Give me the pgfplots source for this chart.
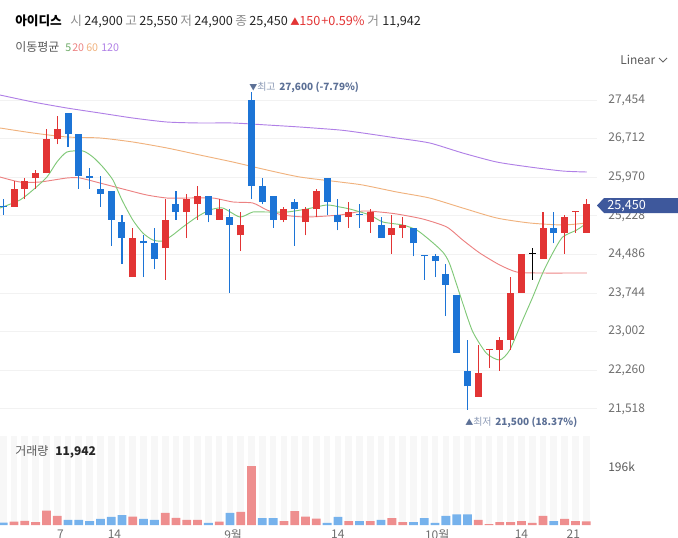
\documentclass[border=0pt]{standalone}
\usepackage{fontspec}
\setmainfont{Noto Sans CJK KR}
\usepackage{pgfplots}
\usepackage{pgfplotstable}
\pgfplotsset{compat=1.18}
\definecolor{upc}{RGB}{226,52,52}
\definecolor{dnc}{RGB}{28,116,214}
\definecolor{vup}{RGB}{238,142,142}
\definecolor{vdn}{RGB}{118,178,236}
\definecolor{ma5}{RGB}{128,200,120}
\definecolor{ma20}{RGB}{236,130,130}
\definecolor{ma60}{RGB}{240,178,126}
\definecolor{ma120}{RGB}{176,128,230}
\definecolor{tagc}{RGB}{62,88,156}
\definecolor{annc}{RGB}{92,112,150}
\definecolor{txtg}{RGB}{110,110,110}
\definecolor{lblg}{RGB}{140,140,140}

% candles: index open high low close
\pgfplotstableread{
i O H L C
1 25400 25900 25400 25750
2 25750 25950 25550 25900
3 25950 26100 25750 26050
4 26050 26900 26050 26700
5 26700 27150 26600 26900
12 24050 25000 24050 24800
15 24600 25550 24000 25150
17 25300 25650 24800 25550
18 25450 25800 25150 25600
20 25150 25550 25150 25350
22 24850 25300 24550 25050
26 25150 25400 25100 25350
28 25100 25400 24850 25350
29 25350 25750 25200 25700
32 25200 25500 25000 25300
34 25100 25350 24900 25300
36 24850 25250 24500 25000
37 25000 25200 24800 25050
44 21750 22750 21750 22200
45 22650 22650 22300 22650
46 22650 22900 22250 22850
47 22850 24050 22650 23750
48 23750 24500 23750 24500
50 24400 25300 24400 25000
52 24900 25250 24500 25200
53 25300 25300 24900 25300
54 24900 25550 24900 25450
}\upt
\pgfplotstableread{
i O H L C
0 25400 25550 25250 25400
6 27200 27200 26550 26800
7 26800 26800 25750 26000
8 26000 26150 25750 25950
9 25750 26000 25400 25650
10 25700 25700 24650 25150
11 25100 25250 24300 24800
13 24750 24850 24050 24700
14 24700 25000 24200 24400
16 25450 25700 25150 25300
19 25600 25600 25100 25250
21 25200 25350 23750 25050
23 27450 27600 25550 25800
24 25800 25950 25450 25500
25 25600 25600 25000 25150
27 25500 25550 24650 25350
30 25950 25950 25250 25500
31 25250 25550 24950 25100
33 25250 25450 25000 25250
35 25050 25200 24800 24800
38 25000 25000 24450 24700
39 24450 24450 24000 24450
40 24450 24500 24050 24350
41 24100 24300 23300 23900
42 23700 23700 22600 22600
43 22250 22850 21500 21950
51 25000 25300 24700 24900
}\dnt
\pgfplotstableread{
i O H L C
49 24500 24600 24000 24500
}\flt
% volume (thousands)
\pgfplotstableread{
i v
1 11
2 14
3 10
4 48
5 30
12 28
15 40
16 24
17 17
18 17
20 11
22 44
23 196
26 13
27 46
28 28
29 21
32 13
34 13
36 23
37 10
44 17
45 3
46 10
47 10
48 13
49 7
50 30
52 20
53 13
54 12
}\vupt
\pgfplotstableread{
i v
0 8
6 17
7 17
8 13
9 20
10 27
11 33
13 20
14 17
19 7
21 40
24 23
25 23
30 7
31 27
33 13
35 17
38 10
39 23
40 7
41 30
42 35
43 35
51 13
}\vdnt

\pgfplotsset{
  candle/.style 2 args={only marks, mark=*, mark size=0.01pt,
    mark options={draw opacity=0, fill opacity=0},
    error bars/.cd, y dir=plus, y explicit, error mark=none,
    error bar style={#1, line width=#2}},
}

\begin{document}
\begin{tikzpicture}[x=0.75pt,y=0.75pt]
\useasboundingbox (0,0) rectangle (678,537);

% ---------- volume panel ----------
\begin{axis}[
  at={(0pt,9pt)}, anchor=south west,
  scale only axis, width=447.75pt, height=66.75pt,
  xmin=-0.3, xmax=55, ymin=0, ymax=296,
  axis line style={draw=none},
  ytick=\empty,
  xtick={5.3,10.3,21.3,31,40.2,48,52.8},
  xticklabels={7,14,9월,14,10월,14,21},
  minor xtick={0,...,54},
  xminorgrids, minor x grid style={color=black!3, line width=5pt},
  major tick length=0pt, minor tick length=0pt,
  xticklabel style={font=\fontsize{9}{10}\selectfont, color=txtg},
]
\addplot[ybar, bar width=6.6pt, bar shift=0pt, fill=vup, draw=none] table[x=i, y=v] {\vupt};
\addplot[ybar, bar width=6.6pt, bar shift=0pt, fill=vdn, draw=none] table[x=i, y=v] {\vdnt};
\end{axis}

% ---------- price panel ----------
\begin{axis}[
  at={(0pt,344.25pt)}, anchor=north west,
  scale only axis, width=447.75pt, height=264pt,
  xmin=-0.3, xmax=55, ymin=21111, ymax=27877,
  axis line style={draw=none},
  xtick=\empty,
  ytick={21518,22260,23002,23744,24486,25228,25970,26712,27454},
  scaled y ticks=false,
  yticklabel pos=right,
  ymajorgrids, grid style={color=black!5, line width=0.6pt},
  major tick length=0pt,
  yticklabel style={font=\fontsize{9}{10}\selectfont, color=txtg, anchor=west, xshift=5pt},
  /pgf/number format/fixed, /pgf/number format/precision=0,
  /pgf/number format/1000 sep={,}, /pgf/number format/assume math mode=true,
]
% moving averages
\addplot[ma120, line width=0.7pt, smooth, tension=0.4] coordinates {
(-0.3,27550) (2.75,27416) (5.9,27300) (8.95,27204) (12.0,27108) (15.16,27031) (18.2,27012)
(21.27,27012) (24.42,26974) (27.47,26935) (31.18,26877) (33.3,26820) (36.45,26724)
(39.5,26628) (42.56,26435) (45.71,26262) (48.77,26166) (51.82,26089) (54.05,26070)};
\addplot[ma60, line width=0.7pt, smooth, tension=0.4] coordinates {
(-0.3,26916) (2.75,26820) (5.9,26743) (8.95,26724) (12.0,26647) (15.16,26532) (18.2,26397)
(21.27,26262) (24.42,26109) (27.47,25974) (31.18,25878) (33.3,25820) (36.45,25686)
(39.5,25570) (42.56,25378) (45.71,25186) (48.77,25090) (51.82,25052) (54.05,25090)};
\addplot[ma20, line width=0.7pt, smooth, tension=0.4] coordinates {
(-0.3,25974) (1.55,25878) (3.4,25878) (5.9,25955) (7.1,25955) (8.95,25859) (11.45,25724)
(13.3,25628) (15.16,25570) (17.0,25570) (19.42,25570) (21.27,25494) (23.12,25474)
(24.42,25340) (25.9,25244) (28.1,25205) (31.18,25244) (33.3,25320) (34.88,25301)
(36.45,25263) (38.86,25167) (41.08,25013) (42.56,24763) (44.14,24513) (45.99,24283)
(47.56,24148) (49.42,24129) (54.05,24129)};
\addplot[ma5, line width=0.7pt, smooth, tension=0.4] coordinates {
(-0.3,25378) (1.55,25532) (2.75,25724) (4.05,25974) (4.97,26262) (5.9,26455) (7.38,26474)
(8.3,26359) (9.23,26166) (10.16,25916) (11,25532) (12,25148) (12.93,24898) (13.86,24763)
(14.8,24744) (15.7,24859) (16.64,25013) (17.93,25205) (19.14,25340) (20.34,25378)
(21.92,25205) (23.12,25301) (24.42,25301) (26.27,25301) (28.1,25359) (29.97,25436)
(31.18,25397) (32.1,25359) (33.95,25244) (35.16,25109) (37,25052) (38.3,24955)
(39.5,24763) (40.71,24533) (41.36,24300) (42.56,23550) (43.49,23000) (44.76,22586)
(45.99,22457) (46.92,22649) (48.12,23226) (49.05,23668) (49.97,24129) (50.9,24513)
(51.82,24821) (53.12,24955) (54.05,25090)};
% wicks
\addplot[candle={upc}{0.8pt}] table[x=i, y=L, y error expr={\thisrow{H}-\thisrow{L}}] {\upt};
\addplot[candle={dnc}{0.8pt}] table[x=i, y=L, y error expr={\thisrow{H}-\thisrow{L}}] {\dnt};
\addplot[candle={black}{0.8pt}] table[x=i, y=L, y error expr={\thisrow{H}-\thisrow{L}}] {\flt};
% bodies
\addplot[candle={upc}{5.25pt}] table[x=i, y expr={min(\thisrow{O},\thisrow{C})}, y error expr={max(abs(\thisrow{C}-\thisrow{O}),22)}] {\upt};
\addplot[candle={dnc}{5.25pt}] table[x=i, y expr={min(\thisrow{O},\thisrow{C})}, y error expr={max(abs(\thisrow{C}-\thisrow{O}),22)}] {\dnt};
\addplot[candle={black}{5.25pt}] table[x=i, y expr={min(\thisrow{O},\thisrow{C})}, y error expr={max(abs(\thisrow{C}-\thisrow{O}),22)}] {\flt};
\end{axis}

% ---------- header texts ----------
\begin{scope}[every node/.style={inner sep=0pt, anchor=base west}]
\node[font=\fontsize{9.5}{11}\selectfont\bfseries] at (15,512) {아이디스};
\node[font=\fontsize{9.5}{11}\selectfont, color=lblg] at (70,512) {시};
\node[font=\fontsize{9.5}{11}\selectfont, color=black!85] at (84,512) {24,900};
\node[font=\fontsize{9.5}{11}\selectfont, color=lblg] at (125,512) {고};
\node[font=\fontsize{9.5}{11}\selectfont, color=black!85] at (139,512) {25,550};
\node[font=\fontsize{9.5}{11}\selectfont, color=lblg] at (180,512) {저};
\node[font=\fontsize{9.5}{11}\selectfont, color=black!85] at (194,512) {24,900};
\node[font=\fontsize{9.5}{11}\selectfont, color=lblg] at (235,512) {종};
\node[font=\fontsize{9.5}{11}\selectfont, color=black!85] at (249,512) {25,450};
\node[font=\fontsize{7}{8}\selectfont, color=upc] at (290,512) {▲};
\node[font=\fontsize{9.5}{11}\selectfont, color=upc] at (299,512) {150};
\node[font=\fontsize{9.5}{11}\selectfont, color=upc] at (321,512) {+0.59\%};
\node[font=\fontsize{9.5}{11}\selectfont, color=lblg] at (367,512) {거};
\node[font=\fontsize{9.5}{11}\selectfont, color=black!85] at (382,512) {11,942};

\node[font=\fontsize{9}{10}\selectfont, color=black!65] at (15,485) {이동평균};
\node[font=\fontsize{8}{10}\selectfont, color=ma5!85!black] at (65,485) {5};
\node[font=\fontsize{8}{10}\selectfont, color=ma20] at (72,485) {20};
\node[font=\fontsize{8}{10}\selectfont, color=ma60] at (86,485) {60};
\node[font=\fontsize{8}{10}\selectfont, color=ma120] at (101,485) {120};

\node[font=\fontsize{9}{10}\selectfont, color=black!65] at (620,473) {Linear};

% extreme annotations
\node[font=\fontsize{6}{7}\selectfont, color=annc] at (249,447) {▼};
\node[font=\fontsize{7.5}{8}\selectfont, color=annc!70] at (257,447) {최고};
\node[font=\fontsize{7.5}{8}\selectfont\bfseries, color=annc] at (279,447) {27,600 (-7.79\%)};
\node[font=\fontsize{6}{7}\selectfont, color=annc] at (465,112) {▲};
\node[font=\fontsize{7.5}{8}\selectfont, color=annc!70] at (473,112) {최저};
\node[font=\fontsize{7.5}{8}\selectfont\bfseries, color=annc] at (495,112) {21,500 (18.37\%)};

% volume labels
\node[font=\fontsize{9}{10}\selectfont, color=black!65] at (15,82) {거래량};
\node[font=\fontsize{9}{10}\selectfont\bfseries, color=black!85] at (55,82) {11,942};
\node[font=\fontsize{9}{10}\selectfont, color=black!65] at (608,66) {196k};
\end{scope}

\draw[black!60, line width=0.7pt] (659,479) -- (663,475) -- (667,479);

% current price tag
\fill[tagc] (597,331.5) -- (604,339) -- (678,339) -- (678,324) -- (604,324) -- cycle;
\node[anchor=base west, inner sep=0pt, white, font=\fontsize{9.5}{10}\selectfont] at (607,327.5) {25,450};
\end{tikzpicture}
\end{document}
